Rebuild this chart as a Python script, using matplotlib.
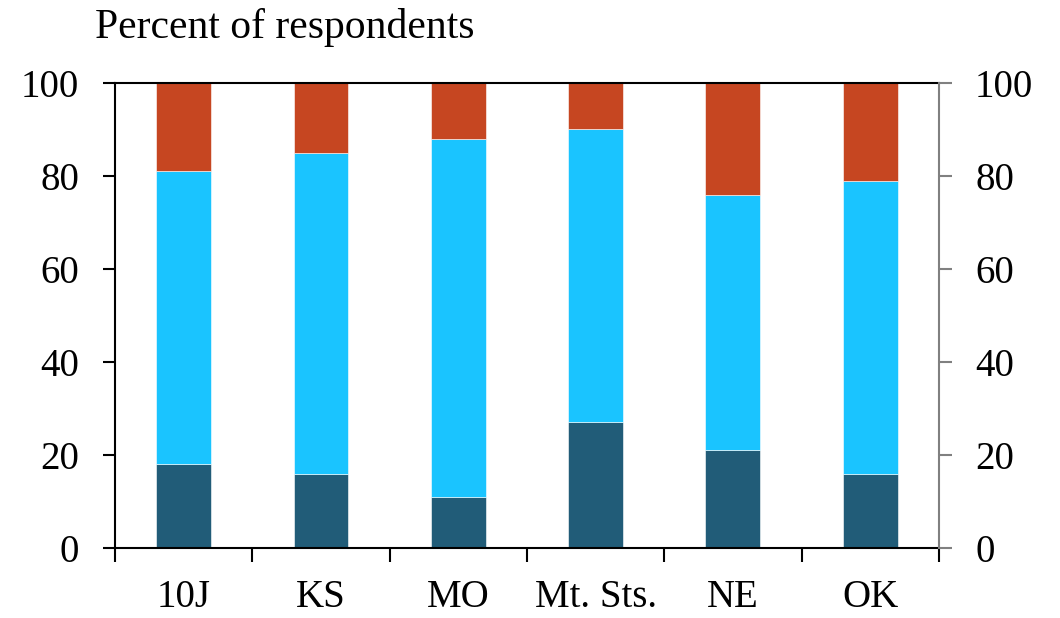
import numpy as np
import matplotlib.pyplot as plt

categories = ['10J', 'KS', 'MO', 'Mt. Sts.', 'NE', 'OK']
bottom_vals = [18, 16, 11, 27, 21, 16]
middle_vals = [63, 69, 77, 63, 55, 63]
top_vals = [19, 15, 12, 10, 24, 21]

plt.rcParams['font.family'] = ['Liberation Serif', 'DejaVu Serif']

fig = plt.figure(figsize=(10.6, 6.18), dpi=100)
ax = fig.add_axes([0.1085, 0.1133, 0.7773, 0.7524])

x = np.arange(len(categories))
b = np.array(bottom_vals)
m = np.array(middle_vals)
t = np.array(top_vals)
w = 0.4
ax.bar(x, b, width=w, color='#215C78', edgecolor='white', linewidth=0.4)
ax.bar(x, m, width=w, bottom=b, color='#1AC4FF', edgecolor='white', linewidth=0.4)
ax.bar(x, t, width=w, bottom=b + m, color='#C64621', edgecolor='white', linewidth=0.4)

ax.set_xlim(-0.5, len(categories) - 0.5)
ax.set_ylim(0, 100)
ax.set_yticks(range(0, 101, 20))
ax.set_xticks(x)
ax.set_xticklabels(categories)
ax.set_xticks(np.arange(-0.5, len(categories), 1), minor=True)
ax.tick_params(axis='x', which='major', length=0, labelsize=28, pad=22)
ax.tick_params(axis='x', which='minor', length=10, width=1.5, direction='out')
ax.tick_params(axis='y', length=9, width=1.5, direction='out', labelsize=28, pad=17)

for s in ['left', 'bottom', 'top']:
    ax.spines[s].set_linewidth(1.5)
ax.spines['right'].set_visible(False)

ax2 = ax.twinx()
ax2.set_ylim(0, 100)
ax2.set_yticks(range(0, 101, 20))
ax2.spines['right'].set_color('#808080')
ax2.spines['right'].set_linewidth(1.5)
for s in ['left', 'bottom', 'top']:
    ax2.spines[s].set_visible(False)
ax2.tick_params(axis='y', length=9, width=1.5, direction='out', colors='#808080',
                labelcolor='black', labelsize=28, pad=17)

fig.text(0.09, 0.955, 'Percent of respondents', fontsize=30, va='center', ha='left')

fig.savefig('out.png', dpi=100)
